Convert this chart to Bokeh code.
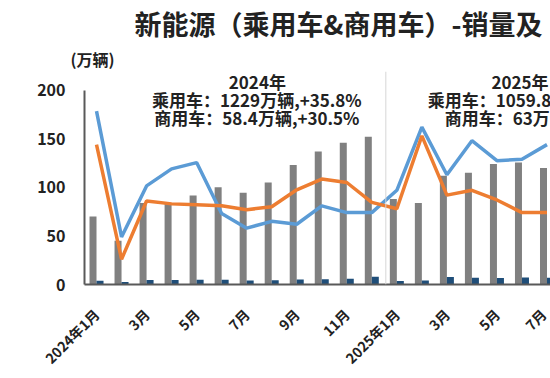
from bokeh.plotting import figure
from bokeh.models import Label, FixedTicker, Span, ColumnDataSource, Title
from bokeh.transform import dodge
from bokeh.embed import file_html
from bokeh.resources import INLINE
import math

# ---------------- data ----------------
months = ["2024-01", "2024-02", "2024-03", "2024-04", "2024-05", "2024-06",
          "2024-07", "2024-08", "2024-09", "2024-10", "2024-11", "2024-12",
          "2025-01", "2025-02", "2025-03", "2025-04", "2025-05", "2025-06",
          "2025-07"]
# 乘用车 sales (万辆)
passenger = [70, 45, 84, 83, 91.5, 100, 94.5, 105, 123, 137, 146, 152,
             88, 84, 112, 115, 124, 125.5, 120]
# 商用车 sales (万辆)
commercial = [3.8, 2.6, 4.6, 4.6, 4.8, 5.0, 4.0, 4.4, 5.2, 5.4, 6.0, 8.0,
              3.6, 4.0, 7.6, 7.0, 6.7, 7.3, 7.0]
# growth lines
blue_line = [178.5, 49, 101.5, 119, 125.5, 73, 58, 65, 62, 81, 74, 74,
             97, 162, 113, 148, 127.5, 129, 144]
orange_line = [144, 26, 86, 83, 82, 81, 77, 80, 97.5, 108.5, 105, 84.5,
               78, 153, 92, 97, 87, 74, 74]

tick_months = ["2024-01", "2024-03", "2024-05", "2024-07", "2024-09", "2024-11",
               "2025-01", "2025-03", "2025-05", "2025-07"]
tick_labels = ["2024年1月", "3月", "5月", "7月", "9月", "11月",
               "2025年1月", "3月", "5月", "7月"]
y_ticks = [0, 50, 100, 150, 200]

title_text = "新能源（乘用车&商用车）-销量及"
unit_text = "(万辆)"
ann_2024 = ["2024年", "乘用车：1229万辆,+35.8%", "商用车：58.4万辆,+30.5%"]
ann_2025 = ["2025年", "乘用车：1059.8", "商用车：63万"]

# ---------------- figure ----------------
FONT = "Noto Sans CJK SC"
TXT = "#222222"

FRAME_TOP = 72.4          # pixel row of the frame's top edge (set by titles)
ZERO_Y = 284.0            # pixel row of value 0
PX_PER_UNIT = 0.965
y_end = (ZERO_Y - FRAME_TOP) / PX_PER_UNIT

idx = list(range(len(months)))
src = ColumnDataSource(dict(x=idx, passenger=passenger, commercial=commercial,
                            blue=blue_line, orange=orange_line))

p = figure(width=550, height=378, x_range=(-0.48, 18.14), y_range=(0, y_end),
           output_backend="svg", toolbar_location=None,
           min_border_left=84, min_border_right=0, min_border_top=62,
           min_border_bottom=94)
p.title.visible = False
p.outline_line_color = None
p.xgrid.visible = False
p.ygrid.visible = False
p.background_fill_color = "white"
p.border_fill_color = "white"

# titles outside the frame
p.add_layout(Title(text=unit_text, align="left", offset=-14, standoff=2,
                   text_font=FONT, text_font_size="16px",
                   text_font_style="bold", text_color=TXT), "above")
p.add_layout(Title(text=title_text, align="left", offset=50, standoff=2,
                   text_font=FONT, text_font_size="27px",
                   text_font_style="bold", text_color=TXT), "above")

# separator between years
sep = months.index("2025-01") - 0.44
p.add_layout(Span(location=sep, dimension="height", line_color="#d6d6d6",
                  line_width=1))

p.vbar(x=dodge("x", -0.14, range=p.x_range), top="passenger", width=0.28,
       bottom=0, source=src, fill_color="#808080", line_color=None)
p.vbar(x=dodge("x", 0.14, range=p.x_range), top="commercial", width=0.28,
       bottom=0, source=src, fill_color="#1f4e79", line_color=None)

p.line("x", "blue", source=src, line_color="#5b9bd5", line_width=3.5)
p.line("x", "orange", source=src, line_color="#ed7d31", line_width=3.5)

# axes
p.yaxis.ticker = FixedTicker(ticks=y_ticks)
p.yaxis.bounds = (0, 200)
p.yaxis.axis_line_color = "#595959"
p.yaxis.axis_line_width = 2
p.yaxis.major_tick_line_color = None
p.yaxis.minor_tick_line_color = None
p.yaxis.major_label_standoff = 13
p.yaxis.major_label_text_font = FONT
p.yaxis.major_label_text_font_size = "16px"
p.yaxis.major_label_text_font_style = "bold"
p.yaxis.major_label_text_color = TXT

p.xaxis.ticker = FixedTicker(ticks=[months.index(m) for m in tick_months])
p.xaxis.major_label_overrides = {months.index(m): lab
                                 for m, lab in zip(tick_months, tick_labels)}
p.xaxis.axis_line_color = "#595959"
p.xaxis.axis_line_width = 2
p.xaxis.major_tick_line_color = None
p.xaxis.minor_tick_line_color = None
p.xaxis.major_label_orientation = math.pi / 4
p.xaxis.major_label_standoff = 21
p.xaxis.major_label_text_font = FONT
p.xaxis.major_label_text_font_size = "14px"
p.xaxis.major_label_text_font_style = "bold"
p.xaxis.major_label_text_color = TXT


def px_x(px):
    return (px - 95.5) / 25.05


def px_y(py):
    return (ZERO_Y - py) / PX_PER_UNIT


def add_label(text, x, y, size, align="left"):
    p.add_layout(Label(x=px_x(x), y=px_y(y), text=text, text_font=FONT,
                       text_font_size=size, text_font_style="bold",
                       text_color=TXT, text_align=align,
                       text_baseline="middle"))


add_label(ann_2024[0], 256.5, 82, "17px", "center")
add_label(ann_2024[1], 256, 100, "17px", "center")
add_label(ann_2024[2], 256, 118, "17px", "center")
add_label(ann_2025[0], 548, 82, "17px", "right")
add_label(ann_2025[1], 427, 100, "17px")
add_label(ann_2025[2], 444, 118, "17px")

open("out.html", "w").write(file_html(p, INLINE))
